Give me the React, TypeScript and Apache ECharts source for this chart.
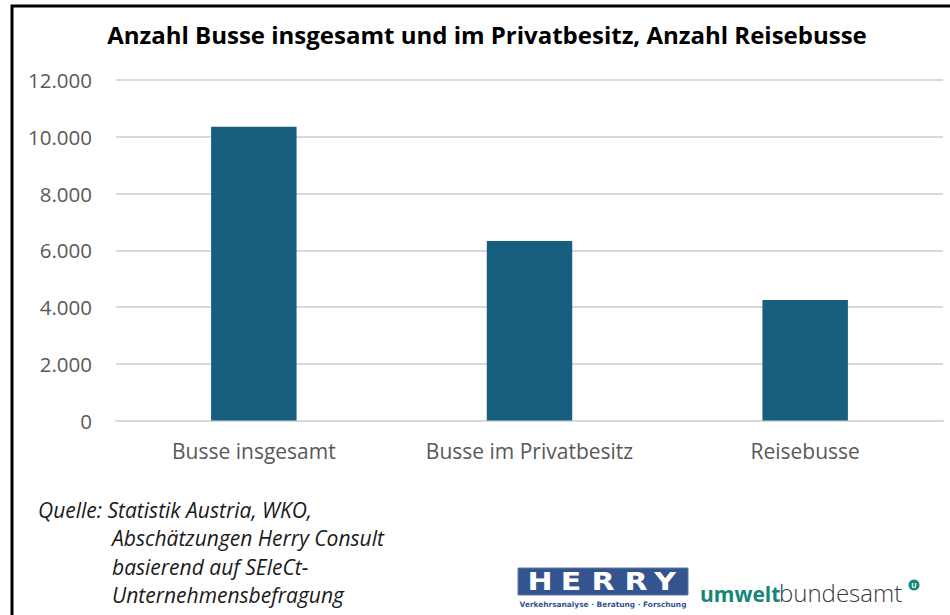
import React, { useEffect, useRef } from "react";
import * as echarts from "echarts";

const categories = ["Busse insgesamt", "Busse im Privatbesitz", "Reisebusse"];
const values = [10350, 6330, 4250];
const yTicks = { min: 0, max: 12000, interval: 2000 };
const titleText = "Anzahl Busse insgesamt und im Privatbesitz, Anzahl Reisebusse";
const sourceFirst = "Quelle: Statistik Austria, WKO,";
const sourceRest = ["Abschätzungen Herry Consult", "basierend auf SEleCt-", "Unternehmensbefragung"];
const herryLetters = ["H", "E", "R", "R", "Y"];
const herryCenters = [540, 571, 603, 636, 665];

export default function App() {
  const ref = useRef<HTMLDivElement>(null);
  useEffect(() => {
    if (!ref.current) return;
    const chart = echarts.init(ref.current, null, { renderer: "svg" });
    const font = "'Open Sans', sans-serif";
    const graphics: any[] = [
      {
        type: "polyline",
        shape: { points: [[12, 615], [12, 6], [950, 6]] },
        style: { stroke: "#000", lineWidth: 3, fill: null },
      },
      {
        type: "text",
        x: 38,
        y: 510,
        style: { text: sourceFirst, font: `italic 21px ${font}`, fill: "#1a1a1a", verticalAlign: "middle" },
      },
      ...sourceRest.map((t, i) => ({
        type: "text",
        x: 112,
        y: 538 + i * 28.5,
        style: { text: t, font: `italic 21px ${font}`, fill: "#1a1a1a", verticalAlign: "middle" },
      })),
      {
        type: "rect",
        shape: { x: 518, y: 568, width: 170, height: 27 },
        style: { fill: "#34548f", stroke: "#5f79a8", lineWidth: 1 },
      },
      ...herryLetters.map((l, i) => ({
        type: "text",
        x: herryCenters[i],
        y: 582,
        scaleX: 1.25,
        style: {
          text: l,
          font: `bold 24px 'DejaVu Sans', sans-serif`,
          fill: "#fff",
          align: "center",
          verticalAlign: "middle",
        },
      })),
      {
        type: "text",
        x: 603,
        y: 604,
        style: {
          text: "Verkehrsanalyse · Beratung · Forschung",
          font: `bold 7.4px 'DejaVu Sans', sans-serif`,
          fill: "#34548f",
          align: "center",
          verticalAlign: "middle",
        },
      },
      {
        type: "text",
        x: 700,
        y: 604,
        style: { text: "umwelt", font: `bold 21px ${font}`, fill: "#168677", verticalAlign: "bottom" },
      },
      {
        type: "text",
        x: 779,
        y: 604,
        style: { text: "bundesamt", font: `300 24px ${font}`, fill: "#3a3a3a", verticalAlign: "bottom" },
      },
      {
        type: "circle",
        shape: { cx: 914, cy: 585, r: 5.5 },
        style: { fill: "#168677" },
      },
      {
        type: "text",
        x: 914,
        y: 585,
        style: {
          text: "U",
          font: `bold 7px ${font}`,
          fill: "#fff",
          align: "center",
          verticalAlign: "middle",
        },
      },
    ];
    chart.setOption({
      animation: false,
      backgroundColor: "#fff",
      title: {
        text: titleText,
        left: 482,
        textAlign: "center",
        top: 17,
        textStyle: { fontFamily: font, fontWeight: "bold", fontSize: 24, color: "#000" },
      },
      grid: { left: 116, right: 7, top: 80, bottom: 194.5, containLabel: false },
      xAxis: {
        type: "category",
        data: categories,
        axisLine: { show: true, lineStyle: { color: "#d9d9d9", width: 2 } },
        axisTick: { show: false },
        axisLabel: { color: "#595959", fontFamily: font, fontSize: 21, margin: 20 },
      },
      yAxis: {
        type: "value",
        min: yTicks.min,
        max: yTicks.max,
        interval: yTicks.interval,
        axisLine: { show: false },
        axisTick: { show: false },
        splitLine: { lineStyle: { color: "#d9d9d9", width: 2 } },
        axisLabel: {
          color: "#595959",
          fontFamily: font,
          fontSize: 20.5,
          margin: 24,
          formatter: (v: number) => v.toLocaleString("de-DE"),
        },
      },
      series: [
        {
          type: "bar",
          data: values,
          barWidth: "31%",
          itemStyle: { color: "#175e7f" },
        },
      ],
      graphic: graphics,
    });
    return () => chart.dispose();
  }, []);
  return (
    <div
      ref={ref}
      style={{ position: "fixed", left: 0, top: 0, width: 950, height: 615 }}
    />
  );
}
